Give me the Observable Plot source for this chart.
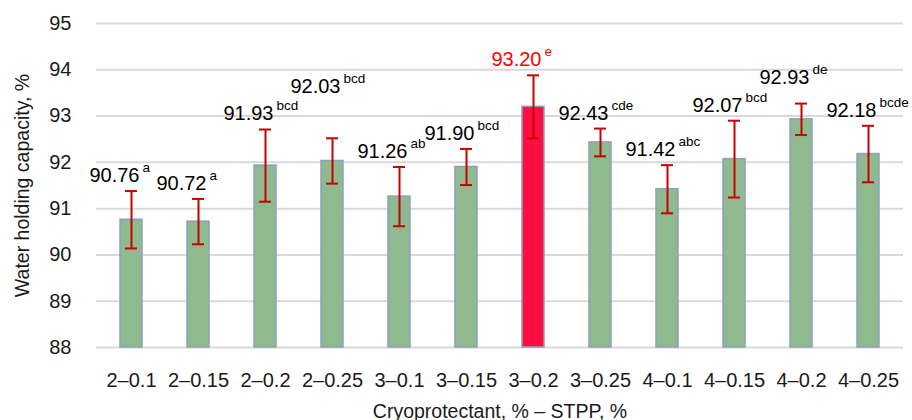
<!DOCTYPE html>
<html>
<head>
<meta charset="utf-8">
<script src="https://cdn.jsdelivr.net/npm/d3@7"></script>
<script src="https://cdn.jsdelivr.net/npm/@observablehq/plot@0.6"></script>
<style>
  html, body { margin: 0; padding: 0; background: #ffffff; }
  #chart { width: 912px; height: 420px; }
</style>
</head>
<body>
<div id="chart"></div>
<script>
const categories = ["2–0.1", "2–0.15", "2–0.2", "2–0.25", "3–0.1", "3–0.15", "3–0.2", "3–0.25", "4–0.1", "4–0.15", "4–0.2", "4–0.25"];
const values = [90.76, 90.72, 91.93, 92.03, 91.26, 91.90, 93.20, 92.43, 91.42, 92.07, 92.93, 92.18];
const errors = [0.62, 0.49, 0.78, 0.49, 0.64, 0.39, 0.68, 0.30, 0.52, 0.83, 0.34, 0.61];
const letters = ["a", "a", "bcd", "bcd", "ab", "bcd", "e", "cde", "abc", "bcd", "de", "bcde"];
const highlight = "3–0.2";
const yTicks = [88, 89, 90, 91, 92, 93, 94, 95];
const yTitle = "Water holding capacity, %";
const xTitle = "Cryoprotectant, % – STPP, %";

const data = categories.map((c, i) => ({
  cat: c,
  value: values[i],
  lo: values[i] - errors[i],
  hi: values[i] + errors[i],
  label: values[i].toFixed(2),
  sup: letters[i],
  hl: c === highlight
}));

const font = "'Liberation Sans', Arial, sans-serif";
const green = "#8fba8f";
const red = "#ff0f40";
const edge = "#8d9fbf";
const errColor = "#c80000";
const numSize = 20, supSize = 13.5;
const numDx = 8, supDx = 11, supRise = 10, gap = 9;

function build(labelData) {
  const marks = [
    Plot.gridY(yTicks, { stroke: "#d9d9d9", strokeOpacity: 1, strokeWidth: 2 }),
    Plot.barY(data, {
      x: "cat", y1: 88, y2: "value",
      fill: d => d.hl ? red : green,
      stroke: edge, strokeWidth: 1.5
    }),
    Plot.ruleX(data, { x: "cat", y1: "lo", y2: "hi", stroke: errColor, strokeWidth: 2 }),
    Plot.tickY(data, { x: "cat", y: "lo", stroke: errColor, strokeWidth: 2, insetLeft: 5, insetRight: 5 }),
    Plot.tickY(data, { x: "cat", y: "hi", stroke: errColor, strokeWidth: 2, insetLeft: 5, insetRight: 5 }),
    Plot.axisY(yTicks, { tickSize: 0, tickPadding: 25, fontSize: 20, label: null }),
    Plot.axisX({ tickSize: 0, tickPadding: 25, fontSize: 20, label: null }),
    Plot.text([yTitle], {
      frameAnchor: "left", text: d => d, rotate: -90, dx: -74,
      textAnchor: "middle", lineAnchor: "middle",
      fontSize: 19.5, fill: "#1a1a1a"
    }),
    Plot.text([xTitle], {
      frameAnchor: "bottom", text: d => d, lineAnchor: "bottom", dy: 70,
      fontSize: 19.5, fill: "#1a1a1a"
    })
  ];
  if (labelData) {
    marks.push(
      Plot.text(labelData, {
        x: "cat", y: "ly", text: "label",
        textAnchor: "end", lineAnchor: "bottom", dx: numDx,
        fontSize: numSize, fill: d => d.hl ? "#ff0000" : "#000000"
      }),
      Plot.text(labelData, {
        x: "cat", y: "ly", text: "sup",
        textAnchor: "start", lineAnchor: "bottom", dx: supDx, dy: -supRise,
        fontSize: supSize, fill: d => d.hl ? "#ff0000" : "#000000"
      })
    );
  }
  return Plot.plot({
    width: 912,
    height: 420,
    marginLeft: 96,
    marginRight: 9,
    marginTop: 23,
    marginBottom: 73,
    style: { fontFamily: font, fontSize: "20px", color: "#1a1a1a", background: "#ffffff" },
    x: { domain: categories, paddingInner: 0.67, paddingOuter: 0.335, label: null },
    y: { domain: [88, 95], label: null },
    marks
  });
}

// First pass: obtain the library's scales, then lift labels that would collide.
const probe = build(null);
const ys = probe.scale("y"), xs = probe.scale("x");
const yLin = d3.scaleLinear(ys.domain, ys.range);
const xBand = d3.scaleBand(xs.domain, xs.range)
  .paddingInner(xs.paddingInner ?? xs.padding ?? 0.67)
  .paddingOuter(xs.paddingOuter ?? xs.padding ?? 0.335)
  .align(xs.align ?? 0.5);
const ctx = document.createElement("canvas").getContext("2d");
const measure = (t, size) => { ctx.font = `${size}px ${font}`; return ctx.measureText(t).width; };

let prev = null;
const descent = numSize * 0.21;
const rise = supRise + supSize * 0.9;
const labelData = data.map(d => {
  const cx = xBand(d.cat) + xBand.bandwidth() / 2;
  const left = cx + numDx - measure(d.label, numSize);
  const right = cx + supDx + measure(d.sup, supSize);
  let base = yLin(d.hi) - gap;
  if (prev && prev.right > left + 1 && base + descent > prev.top && base - rise < prev.bottom) {
    base = prev.top - descent - 1;
  }
  prev = { right, top: base - rise, bottom: base + descent };
  return { ...d, ly: yLin.invert(base) };
});

document.getElementById("chart").appendChild(build(labelData));
</script>
</body>
</html>
